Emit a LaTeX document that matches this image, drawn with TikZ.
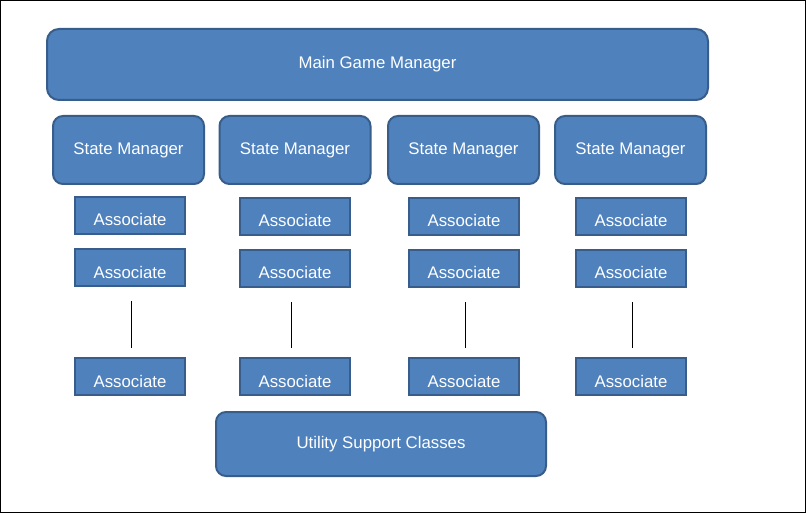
\documentclass[tikz,border=0pt]{standalone}
\usepackage{fontspec}
\setmainfont{Liberation Sans}
\usepackage{tikz}
\usetikzlibrary{positioning}
\definecolor{boxblue}{HTML}{4F81BD}
\definecolor{boxline}{HTML}{385D8A}
\tikzset{box/.style={draw=boxline, fill=boxblue, line width=2pt, text=white,
    font=\fontsize{16.8}{20}\selectfont}}

\begin{document}
\begin{tikzpicture}[x=1pt, y=-1pt, node distance=13pt,
    manager/.style={box, rounded corners=10pt, minimum width=151pt, minimum height=68pt},
    assoc/.style={box, minimum width=110pt, minimum height=37pt, text height=21pt, text depth=0pt}]
      \useasboundingbox (0,0) rectangle (806,513);
      \draw[line width=1.2pt] (0.6,0.6) rectangle (805.4,512.4);  %outer frame
      \node[box, rounded corners=12pt, minimum width=661pt, minimum height=71pt] (main) at (377.5,64.5) {Main Game Manager};

      \node[manager] (sm1) at (128.5,150) {State Manager};
      \node[manager] (sm2) at (295,150) {State Manager};
      \node[manager] (sm3) at (463.5,150) {State Manager};
      \node[manager] (sm4) at (630.5,150) {State Manager};

      \node[assoc] (a11) at (130,215.5) {Associate};
      \node[assoc] (a12) [below=of a11] {Associate};
      \node[assoc] (a13) at (130,376.5) {Associate};
      \node[assoc] (a21) at (295,216.5) {Associate};
      \node[assoc] (a22) [below=of a21] {Associate};
      \node[assoc] (a23) at (295,376.5) {Associate};
      \node[assoc] (a31) at (464,216.5) {Associate};
      \node[assoc] (a32) [below=of a31] {Associate};
      \node[assoc] (a33) at (464,376.5) {Associate};
      \node[assoc] (a41) at (631,216.5) {Associate};
      \node[assoc] (a42) [below=of a41] {Associate};
      \node[assoc] (a43) at (631,376.5) {Associate};

      \node[box, rounded corners=10pt, minimum width=330pt, minimum height=64pt] (util) at (381,444) {Utility Support Classes};

      \path[line width=0.9pt, shorten <=14pt, shorten >=9pt]
                ([xshift=1pt]a12.south) edge ([xshift=1pt]a13.north)
                ([xshift=-3.5pt]a22.south) edge ([xshift=-3.5pt]a23.north)
                ([xshift=1pt]a32.south) edge ([xshift=1pt]a33.north)
                ([xshift=1pt]a42.south) edge ([xshift=1pt]a43.north);
\end{tikzpicture}
\end{document}
